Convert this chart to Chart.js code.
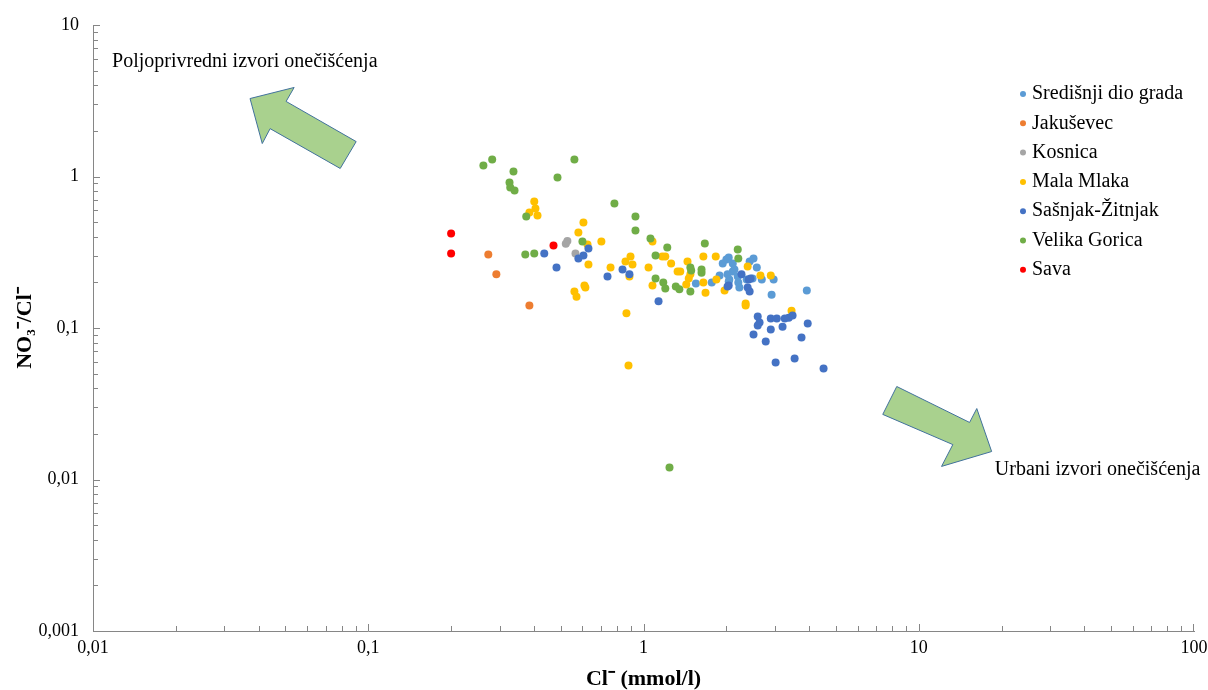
<!DOCTYPE html>
<html>
<head>
<meta charset="utf-8">
<title>NO3/Cl</title>
<script src="https://cdn.jsdelivr.net/npm/chart.js@4.4.1/dist/chart.umd.min.js"></script>
<style>
  html, body { margin: 0; padding: 0; background: #fff; }
  #wrap { position: relative; width: 1208px; height: 690px; }
</style>
</head>
<body>
<div id="wrap"><canvas id="chart"></canvas></div>
<script>
// ---- data (Cl- in mmol/l, NO3-/Cl- ratio) ----
const seriesNames = ['Središnji dio grada', 'Jakuševec', 'Kosnica', 'Mala Mlaka', 'Sašnjak-Žitnjak', 'Velika Gorica', 'Sava'];
const seriesColors = ['#5B9BD5', '#ED7D31', '#A5A5A5', '#FFC000', '#4472C4', '#70AD47', '#FF0000'];

const sredisnjiCl    = [1.55, 1.77, 2.00, 2.11, 2.02, 2.11, 2.20, 2.05, 1.94, 2.04, 2.14, 1.89, 2.04, 2.23, 2.21, 2.43, 2.51, 2.58, 2.37, 2.49, 2.69, 2.97, 2.92, 3.92];
const sredisnjiRatio = [0.197, 0.1995, 0.283, 0.267, 0.226, 0.236, 0.219, 0.209, 0.267, 0.292, 0.243, 0.222, 0.203, 0.185, 0.1995, 0.275, 0.288, 0.251, 0.209, 0.212, 0.209, 0.209, 0.166, 0.177];

const jakusevecCl    = [0.273, 0.292, 0.385];
const jakusevecRatio = [0.306, 0.226, 0.141];

const kosnicaCl      = [0.529, 0.522, 0.566];
const kosnicaRatio   = [0.375, 0.360, 0.310];

const malaMlakaCl    = [0.401, 0.405, 0.385, 0.412, 0.605, 0.580, 0.703, 0.626, 0.897, 0.860, 0.912, 0.631, 0.759, 1.043, 1.078,
                        0.561, 0.571, 0.610, 0.615, 0.889, 0.867, 0.882, 1.17, 1.20, 1.26, 1.33, 1.36, 1.445, 1.46, 1.43,
                        1.65, 1.83, 1.84, 1.65, 1.68, 1.97, 1.078, 1.48, 2.39, 2.66, 2.90, 2.35, 2.35, 3.45];
const malaMlakaRatio = [0.684, 0.615, 0.579, 0.553, 0.497, 0.427, 0.372, 0.356, 0.296, 0.275, 0.263, 0.263, 0.251, 0.251, 0.372,
                        0.174, 0.161, 0.191, 0.185, 0.219, 0.125, 0.0566, 0.296, 0.296, 0.267, 0.236, 0.236, 0.275, 0.212, 0.194,
                        0.296, 0.296, 0.209, 0.1995, 0.171, 0.177, 0.191, 0.226, 0.255, 0.222, 0.222, 0.145, 0.141, 0.130];

const sasnjakCl      = [0.436, 0.483, 0.631, 0.605, 0.580, 0.839, 0.889, 0.740, 1.134, 2.04, 2.27, 2.41, 2.02, 2.39, 2.43, 2.45,
                        2.60, 2.64, 2.60, 2.90, 3.05, 3.26, 3.37, 3.48, 2.90, 3.20, 3.95, 2.51, 2.78, 3.75, 3.54, 3.02, 4.51];
const sasnjakRatio   = [0.310, 0.251, 0.335, 0.301, 0.288, 0.243, 0.226, 0.219, 0.150, 0.191, 0.226, 0.209, 0.188, 0.185, 0.174, 0.212,
                        0.119, 0.1087, 0.104, 0.1155, 0.1155, 0.1155, 0.117, 0.121, 0.0977, 0.102, 0.107, 0.0906, 0.0815, 0.0866, 0.0629, 0.0592, 0.054];

const velikaGoricaCl    = [0.262, 0.282, 0.337, 0.326, 0.328, 0.340, 0.561, 0.487, 0.784, 0.935, 0.935, 1.06, 0.375, 0.372, 0.401, 0.600,
                           1.106, 1.22, 1.67, 1.106, 1.18, 1.20, 1.31, 1.35, 1.48, 1.49, 1.625, 1.625, 1.48, 2.20, 2.21, 1.243];
const velikaGoricaRatio = [1.18, 1.295, 1.08, 0.913, 0.846, 0.808, 1.295, 0.985, 0.663, 0.545, 0.44, 0.39, 0.545, 0.306, 0.310, 0.372,
                           0.301, 0.340, 0.361, 0.212, 0.1995, 0.182, 0.188, 0.180, 0.251, 0.240, 0.243, 0.232, 0.174, 0.330, 0.288, 0.012];

const savaCl    = [0.200, 0.200, 0.471];
const savaRatio = [0.420, 0.310, 0.350];

const seriesCl    = [sredisnjiCl, jakusevecCl, kosnicaCl, malaMlakaCl, sasnjakCl, velikaGoricaCl, savaCl];
const seriesRatio = [sredisnjiRatio, jakusevecRatio, kosnicaRatio, malaMlakaRatio, sasnjakRatio, velikaGoricaRatio, savaRatio];

// ---- axes ----
const xTicks = [0.01, 0.1, 1, 10, 100];
const xTickLabels = ['0,01', '0,1', '1', '10', '100'];
const yTicks = [0.001, 0.01, 0.1, 1, 10];
const yTickLabels = ['0,001', '0,01', '0,1', '1', '10'];

// ---- annotations (in data coordinates) ----
const upperArrow = [[0.0372, 3.27], [0.0538, 3.87], [0.0503, 3.13], [0.0904, 1.70], [0.0791, 1.13], [0.0440, 2.07], [0.0412, 1.65]];
const lowerArrow = [[8.32, 0.0411], [15.3, 0.0238], [16.25, 0.0294], [18.4, 0.0153], [12.1, 0.0122], [13.3, 0.0170], [7.40, 0.0269]];
const notes = [
  { text: 'Poljoprivredni izvori onečišćenja', x: 0.01173, y: 5.74 },
  { text: 'Urbani izvori onečišćenja', x: 18.9, y: 0.01164 }
];

const serif = '"Liberation Serif", "Times New Roman", serif';

const datasets = seriesNames.map((name, i) => ({
  label: name,
  data: seriesCl[i].map((x, j) => ({ x: x, y: seriesRatio[i][j] })),
  backgroundColor: seriesColors[i],
  borderWidth: 0,
  pointRadius: 4,
  pointHoverRadius: 4,
  order: seriesNames.length - i   // later series on top, like Excel
}));

// minor/major ticks drawn inside the plot + arrows, notes and legend
const decorPlugin = {
  id: 'decor',
  beforeDatasetsDraw(chart) {
    const ctx = chart.ctx;
    const xs = chart.scales.x, ys = chart.scales.y;
    ctx.save();
    // arrows
    [upperArrow, lowerArrow].forEach(poly => {
      ctx.beginPath();
      poly.forEach((p, k) => {
        const px = xs.getPixelForValue(p[0]), py = ys.getPixelForValue(p[1]);
        if (k === 0) ctx.moveTo(px, py); else ctx.lineTo(px, py);
      });
      ctx.closePath();
      ctx.fillStyle = '#A9D18E';
      ctx.fill();
      ctx.strokeStyle = '#41719C';
      ctx.lineWidth = 1;
      ctx.stroke();
    });

    // ticks
    ctx.strokeStyle = '#868686';
    ctx.lineWidth = 1;
    const area = chart.chartArea;
    for (let k = Math.log10(xs.min); k < Math.log10(xs.max); k++) {
      for (let m = 1; m <= 9; m++) {
        const px = Math.round(xs.getPixelForValue(m * Math.pow(10, k))) + 0.5;
        const len = m === 1 ? 7 : 5;
        ctx.beginPath(); ctx.moveTo(px, area.bottom); ctx.lineTo(px, area.bottom - len); ctx.stroke();
      }
    }
    const pxEnd = Math.round(xs.getPixelForValue(xs.max)) - 0.5;
    ctx.beginPath(); ctx.moveTo(pxEnd, area.bottom); ctx.lineTo(pxEnd, area.bottom - 7); ctx.stroke();
    for (let k = Math.log10(ys.min); k < Math.log10(ys.max); k++) {
      for (let m = 1; m <= 9; m++) {
        const py = Math.round(ys.getPixelForValue(m * Math.pow(10, k))) + 0.5;
        const len = m === 1 ? 7 : 5;
        ctx.beginPath(); ctx.moveTo(area.left, py); ctx.lineTo(area.left + len, py); ctx.stroke();
      }
    }
    const pyEnd = Math.round(ys.getPixelForValue(ys.max)) + 0.5;
    ctx.beginPath(); ctx.moveTo(area.left, pyEnd); ctx.lineTo(area.left + 7, pyEnd); ctx.stroke();

    // notes
    ctx.fillStyle = '#000';
    ctx.font = '20px ' + serif;
    ctx.textAlign = 'left';
    ctx.textBaseline = 'middle';
    notes.forEach(n => ctx.fillText(n.text, xs.getPixelForValue(n.x), ys.getPixelForValue(n.y)));
    ctx.restore();
  },
  afterDraw(chart) {
    const ctx = chart.ctx;
    ctx.save();
    ctx.font = '20px ' + serif;
    ctx.textAlign = 'left';
    ctx.textBaseline = 'middle';
    chart.data.datasets.forEach((ds, i) => {
      const y = 94 + i * 29.3;
      ctx.fillStyle = ds.backgroundColor;
      ctx.beginPath(); ctx.arc(1023, y, 3, 0, Math.PI * 2); ctx.fill();
      ctx.fillStyle = '#000';
      ctx.fillText(ds.label, 1032, y);
    });
    ctx.restore();
  }
};

new Chart(document.getElementById('chart'), {
  type: 'scatter',
  data: { datasets: datasets },
  plugins: [decorPlugin],
  options: {
    responsive: true,
    maintainAspectRatio: false,
    animation: false,
    layout: { padding: { top: 25, right: 14, left: 0, bottom: 0 } },
    plugins: {
      legend: { display: false },
      tooltip: { enabled: false }
    },
    scales: {
      x: {
        type: 'logarithmic',
        min: 0.01,
        max: 100,
        afterBuildTicks: s => { s.ticks = xTicks.map(v => ({ value: v })); },
        afterFit: s => { s.height = 59; s.paddingLeft = 0; s.paddingRight = 0; },
        grid: { display: false, drawTicks: false },
        border: { display: true, color: '#868686', width: 1 },
        ticks: {
          padding: 6,
          color: '#000',
          font: { family: serif, size: 18 },
          maxRotation: 0,
          autoSkip: false,
          callback: (v) => xTickLabels[xTicks.indexOf(v)]
        },
        title: {
          display: true,
          text: 'Cl⁻ (mmol/l)',
          color: '#000',
          font: { family: serif, size: 22, weight: 'bold', lineHeight: 1 },
          padding: { top: 0, bottom: 0 }
        }
      },
      y: {
        type: 'logarithmic',
        min: 0.001,
        max: 10,
        afterBuildTicks: s => { s.ticks = yTicks.map(v => ({ value: v })); },
        afterFit: s => { s.width = 93; s.paddingTop = 0; s.paddingBottom = 0; },
        grid: { display: false, drawTicks: false },
        border: { display: true, color: '#868686', width: 1 },
        ticks: {
          padding: 14,
          color: '#000',
          font: { family: serif, size: 18 },
          autoSkip: false,
          callback: (v) => yTickLabels[yTicks.indexOf(v)]
        },
        title: {
          display: true,
          text: 'NO₃⁻/Cl⁻',
          color: '#000',
          font: { family: serif, size: 22, weight: 'bold', lineHeight: 1 },
          padding: { top: 14, bottom: 0 }
        }
      }
    }
  }
});
</script>
</body>
</html>
